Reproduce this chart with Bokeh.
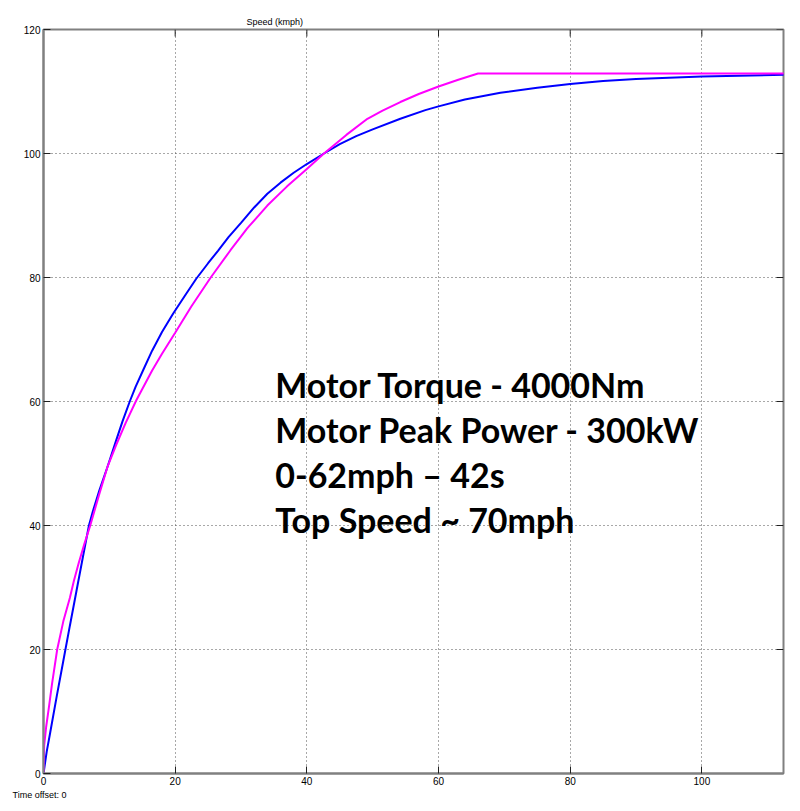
from bokeh.plotting import figure
from bokeh.models import FixedTicker, Range1d, Title, Label
from bokeh.embed import file_html
from bokeh.resources import INLINE

# ---- data ----
blue_t = [0, 0.5, 1, 2, 3, 4, 5, 6, 6.9, 7.5, 8.5, 9.7, 11, 12, 13.1, 14, 15.2, 16.5, 18,
          19.7, 21.5, 23.2, 25, 26.5, 28.1, 30, 32, 34, 36, 38, 40, 42.6, 45, 47.5, 50,
          54.2, 58, 60, 64, 69.4, 75, 80, 85, 90, 100, 112.5]
blue_v = [0, 3.6, 6.5, 12.4, 18.1, 23.8, 29.4, 35.0, 40, 42.3, 45.7, 49.4, 53.6, 56.8,
          60, 62.4, 65.2, 68.2, 71.2, 74.2, 77.1, 79.8, 82.3, 84.3, 86.5, 88.8, 91.3,
          93.5, 95.3, 96.9, 98.3, 100, 101.5, 102.8, 103.9, 105.6, 107.0, 107.6, 108.7,
          109.8, 110.6, 111.2, 111.7, 112.0, 112.4, 112.7]

mag_t = [0, 0.1, 0.4, 0.8, 1.3, 2.08, 3, 4, 4.6, 5.36, 6.2, 7.1, 8.4, 9.7, 11, 12.5, 14.1,
         16.5, 18, 20, 22.5, 25.4, 28.4, 31, 34, 37, 40, 42.6, 46, 49.2, 51.5, 54.2, 57,
         60, 63, 66, 112.5]
mag_v = [0, 4.5, 7.5, 10.5, 14.5, 20, 24.5, 28.3, 31.0, 34.0, 37.0, 40, 44.8, 49.4,
         52.9, 56.6, 60.2, 65.0, 67.7, 71.1, 75.4, 80.0, 84.4, 88.0, 91.6, 94.7, 97.5,
         100, 103.0, 105.6, 106.9, 108.3, 109.6, 110.8, 111.9, 112.9, 112.9]

x_ticks = [0, 20, 40, 60, 80, 100]
y_ticks = [0, 20, 40, 60, 80, 100, 120]
x_max = 112.4
y_max = 120

title_text = "Speed (kmph)"
note_lines = ["Motor Torque - 4000Nm", "Motor Peak Power - 300kW",
              "0-62mph \u2013 42s", "Top Speed ~ 70mph"]
footer_text = "Time offset:  0"

# ---- figure ----
p = figure(width=792, height=803, output_backend="svg", toolbar_location=None,
           x_range=Range1d(0, x_max), y_range=Range1d(0, y_max),
           min_border_left=43, min_border_right=9, min_border_top=29, min_border_bottom=30)
p.background_fill_color = "white"
p.border_fill_color = "white"
p.outline_line_color = "#808080"
p.outline_line_width = 2

p.title.text = title_text
p.title.align = "left"
p.title.offset = 203
p.title.text_font = "Liberation Sans"
p.title.text_font_size = "9px"
p.title.text_font_style = "normal"
p.title.text_color = "#000000"
p.title.standoff = 5

for ax in (p.xaxis[0], p.yaxis[0]):
    ax.axis_line_color = "#808080"
    ax.axis_line_width = 2
    ax.major_tick_in = 7
    ax.major_tick_out = 0
    ax.major_tick_line_color = "#202020"
    ax.minor_tick_line_color = None
    ax.major_label_text_font = "Liberation Sans"
    ax.major_label_text_font_size = "10px"
    ax.major_label_text_color = "#000000"
    ax.major_label_standoff = 3
p.xaxis[0].ticker = FixedTicker(ticks=x_ticks)
p.yaxis[0].ticker = FixedTicker(ticks=y_ticks)

p.xgrid.ticker = FixedTicker(ticks=x_ticks)
p.ygrid.ticker = FixedTicker(ticks=y_ticks)
for g in (p.xgrid[0], p.ygrid[0]):
    g.grid_line_color = "#505050"
    g.grid_line_dash = "1 3"
    g.grid_line_width = 1

# inward tick marks on the top and right edges of the box (MATLAB style)
tick_len_x = 7 / 6.2    # 7 px in y data units
tick_len_y = 7 / 6.585  # 7 px in x data units
p.segment(x0=x_ticks, y0=[y_max] * len(x_ticks), x1=x_ticks,
          y1=[y_max - tick_len_x] * len(x_ticks), line_color="#202020", line_width=1)
p.segment(x0=[x_max] * len(y_ticks), y0=y_ticks, x1=[x_max - tick_len_y] * len(y_ticks),
          y1=y_ticks, line_color="#202020", line_width=1)

p.line(blue_t, blue_v, line_color="#0000FF", line_width=2)
p.line(mag_t, mag_v, line_color="#FF00FF", line_width=2)

# annotation text
note_x = 35.2
note_y = [62.8, 55.5, 48.2, 41.0]
for txt, yy in zip(note_lines, note_y):
    p.add_layout(Label(x=note_x, y=yy, text=txt, text_font="Lato", text_font_style="bold",
                       text_font_size="34px", text_color="#000000",
                       text_baseline="alphabetic", text_align="left"))

footer = Title(text=footer_text, align="left", offset=-31, text_font="Liberation Sans",
               text_font_size="9px", text_font_style="normal", text_color="#000000",
               standoff=0)
p.add_layout(footer, "below")

open("out.html", "w").write(file_html(p, INLINE))
